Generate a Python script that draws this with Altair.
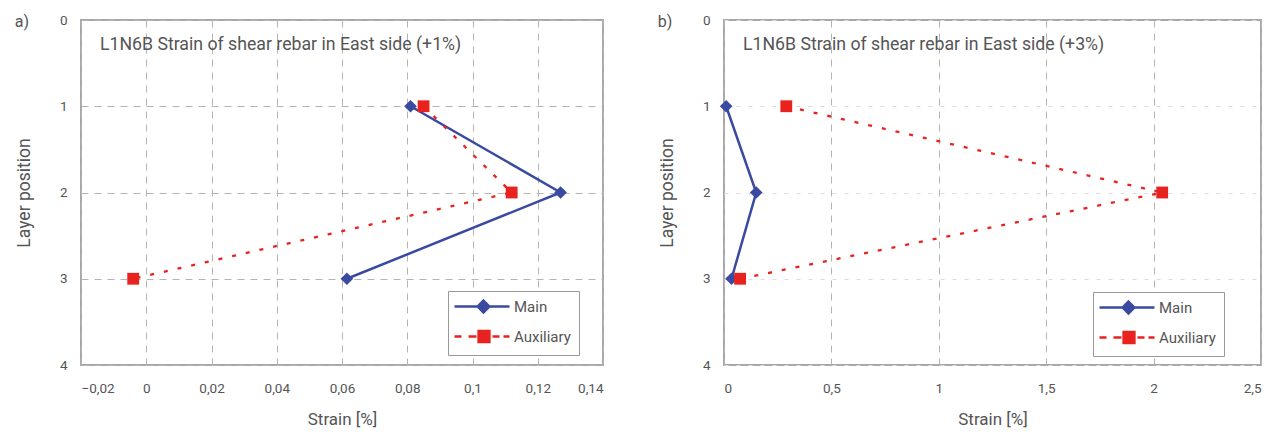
import altair as alt
import pandas as pd

# ---- data ----
layers = [1, 2, 3]
series = ["Main", "Auxiliary"]

a_main = [0.081, 0.127, 0.0615]
a_aux = [0.085, 0.112, -0.004]
b_main = [0.01, 0.15, 0.035]
b_aux = [0.29, 2.04, 0.075]

a_ticks = [-0.02, 0, 0.02, 0.04, 0.06, 0.08, 0.1, 0.12, 0.14]
b_ticks = [0, 0.5, 1, 1.5, 2, 2.5]
y_ticks = [0, 1, 2, 3, 4]

a_title = "L1N6B Strain of shear rebar in East side (+1%)"
b_title = "L1N6B Strain of shear rebar in East side (+3%)"

BLUE = "#3a4aa0"
RED = "#e8231f"
GREY = "#555555"
FONT = "Roboto"

# legend symbols: line + marker (unit = 5 px)
PATH_MAIN = "M-1.8,0H9.2M4,-1.2L5.2,0L4,1.2L2.8,0Z"
PATH_AUX = ("M-1.8,0H-0.4M1,0H2.6M3,-1.1H5.2V1.1H3Z"
            "M5.8,0H7.2M8,0H9.2")


def panel(main, aux, xdom, xticks, title, letter, width, hgrid_dash, hgrid_color,
          leg_x, leg_y):
    df = pd.DataFrame({
        "layer": layers * 2,
        "strain": main + aux,
        "series": [series[0]] * 3 + [series[1]] * 3,
    })
    x = alt.X(
        "strain:Q",
        scale=alt.Scale(domain=xdom, nice=False, zero=False),
        axis=alt.Axis(values=xticks, title="Strain [%]",
                      labelExpr="replace(format(datum.value, '~g'), '.', ',')",
                      grid=True, gridDash=[7, 6], gridColor="#b4b4b4",
                      gridWidth=1, domain=False, ticks=False, tickSize=0,
                      labelPadding=16, titlePadding=17, titleFontSize=17),
    )
    y = alt.Y(
        "layer:Q",
        scale=alt.Scale(domain=[0, 4], reverse=True, nice=False, zero=False),
        axis=alt.Axis(values=y_ticks, title="Layer position", format="d",
                      grid=True, gridDash=hgrid_dash, gridColor=hgrid_color,
                      gridWidth=1, domain=False, ticks=False, tickSize=0,
                      labelPadding=14, titlePadding=26, titleFontSize=17.5),
    )
    base = alt.Chart(df).encode(x=x, y=y, order=alt.Order("layer:Q"))
    is_main = alt.datum.series == series[0]
    is_aux = alt.datum.series == series[1]

    main_line = base.transform_filter(is_main).mark_line(color=BLUE, strokeWidth=2.5)
    main_pts = base.transform_filter(is_main).mark_point(
        shape="diamond", filled=True, size=160, color=BLUE, opacity=1)
    aux_line = base.transform_filter(is_aux).mark_line(
        color=RED, strokeWidth=2.3, strokeDash=[4, 10])
    aux_pts = base.transform_filter(is_aux).mark_point(
        shape="square", filled=True, size=140, color=RED, opacity=1)

    leg = alt.Legend(
        title=None, orient="none", legendX=leg_x, legendY=leg_y,
        fillColor="white", strokeColor="#999999", padding=8,
        symbolSize=100, symbolStrokeWidth=2.3, labelFontSize=15,
        labelColor=GREY, labelFont=FONT, rowPadding=8, labelOffset=43,
    )
    legend_layer = base.transform_filter("false").mark_point(
        filled=True, size=100, opacity=1).encode(
        fill=alt.Fill("series:N", scale=alt.Scale(domain=series, range=[BLUE, RED]), legend=leg),
        stroke=alt.Stroke("series:N", scale=alt.Scale(domain=series, range=[BLUE, RED]), legend=leg),
        shape=alt.Shape("series:N", scale=alt.Scale(domain=series, range=[PATH_MAIN, PATH_AUX]), legend=leg),
    )

    letter_txt = alt.Chart(pd.DataFrame({"t": [letter]})).mark_text(
        align="center", baseline="middle", fontSize=16, color=GREY, font=FONT
    ).encode(text="t:N", x=alt.value(-59), y=alt.value(2))

    return alt.layer(
        main_line, aux_line, main_pts, aux_pts, legend_layer, letter_txt
    ).properties(
        width=width, height=345,
        title=alt.TitleParams(title, anchor="start", orient="top", frame="group",
                              offset=-41, dx=19, fontSize=17.7, fontWeight="normal",
                              color=GREY, font=FONT),
    )


pa = panel(a_main, a_aux, [-0.02, 0.14], a_ticks, a_title, "a)", 522,
           [7, 6], "#b4b4b4", 367, 271)
pb = panel(b_main, b_aux, [0, 2.5], b_ticks, b_title, "b)", 537,
           [4, 8], "#dcdcdc", 369, 272)

chart = alt.hconcat(pa, pb, spacing=52).resolve_scale(
    fill="independent", stroke="independent", shape="independent"
).resolve_legend(
    fill="independent", stroke="independent", shape="independent"
).configure(
    padding={"left": 5, "top": 4, "right": 0, "bottom": 0},
    font=FONT,
).configure_view(
    stroke="#a8a8a8", strokeWidth=2,
).configure_axis(
    labelFont=FONT, titleFont=FONT, labelFontSize=13.5,
    labelColor=GREY, titleColor=GREY, titleFontWeight="normal",
)

chart.save("out.html", embed_options={"renderer": "svg", "actions": False})
